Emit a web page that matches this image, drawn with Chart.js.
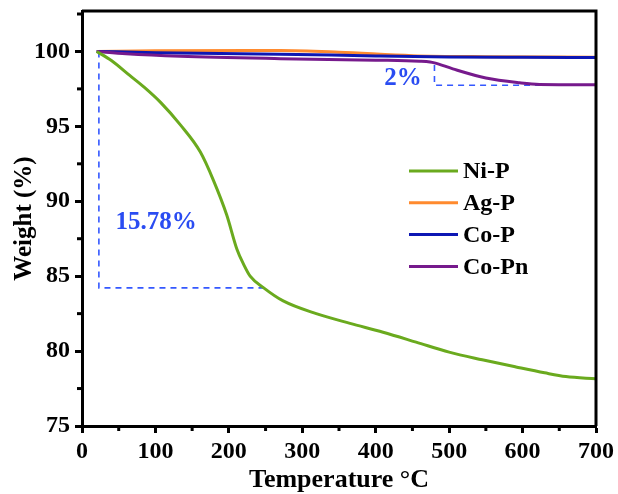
<!DOCTYPE html>
<html>
<head>
<meta charset="utf-8">
<script src="https://cdn.jsdelivr.net/npm/chart.js@4"></script>
<style>
  html, body { margin: 0; padding: 0; background: #fff; }
  #wrap { width: 618px; height: 494px; }
</style>
</head>
<body>
<div id="wrap"><canvas id="c" width="618" height="494"></canvas></div>
<script>
// TGA curves: temperature (°C) vs remaining weight (%)
const niT  = [20, 40, 65, 85, 107, 134, 161, 179, 197, 211, 220, 229, 247, 274, 319, 365, 410, 455, 500, 545, 591, 630, 659, 700];
const niW  = [100, 99.4, 98.4, 97.6, 96.6, 95.1, 93.3, 91.4, 89.1, 86.8, 85.8, 85.0, 84.24, 83.35, 82.5, 81.85, 81.26, 80.6, 79.93, 79.42, 78.94, 78.55, 78.3, 78.15];

const agT  = [20, 100, 270, 350, 450, 550, 700];
const agW  = [100, 100.05, 100.06, 99.95, 99.72, 99.65, 99.62];

const coT  = [20, 100, 270, 400, 500, 600, 700];
const coW  = [100, 99.92, 99.82, 99.7, 99.63, 99.61, 99.6];

const cpnT = [20, 60, 134, 270, 400, 460, 474, 480, 505, 550, 596, 623, 700];
const cpnW = [100, 99.85, 99.68, 99.52, 99.42, 99.35, 99.3, 99.24, 98.84, 98.23, 97.91, 97.8, 97.78];

// Mass-loss guides
const lossNiT = [23, 23, 247];
const lossNiW = [100, 84.22, 84.22];
const lossCoT = [480, 480, 700];
const lossCoW = [99.1, 97.74, 97.74];

const xTicks = [0, 100, 200, 300, 400, 500, 600, 700];
const yTicks = [75, 80, 85, 90, 95, 100];

const labelNi = { text: '15.78%', x: 101, y: 88.55 };
const labelCo = { text: '2%', x: 437, y: 98.2 };

const pts = (xs, ys) => xs.map((x, i) => ({ x, y: ys[i] }));

const FONT = '"Liberation Serif", "DejaVu Serif", serif';
const GUIDE = '#3458ff';

const curve = (label, xs, ys, color, order) => ({
  label, data: pts(xs, ys), borderColor: color, backgroundColor: color,
  borderWidth: 3, pointRadius: 0, cubicInterpolationMode: 'monotone',
  fill: false, order, showLegend: true
});
const guide = (xs, ys) => ({
  label: '', data: pts(xs, ys), borderColor: GUIDE, borderWidth: 1.6,
  borderDash: [6, 5], pointRadius: 0, tension: 0, fill: false, order: 10, showLegend: false
});

// Minor ticks, in-plot legend and percentage labels
const extras = {
  id: 'extras',
  afterDraw(chart) {
    const { ctx, scales: { x, y }, chartArea: a } = chart;
    ctx.save();
    ctx.strokeStyle = '#000';
    ctx.lineWidth = 3;
    for (let v = 50; v < 700; v += 100) {
      const px = x.getPixelForValue(v);
      ctx.beginPath(); ctx.moveTo(px, a.bottom); ctx.lineTo(px, a.bottom + 5); ctx.stroke();
    }
    for (let v = 77.5; v < 102.7; v += 5) {
      const py = y.getPixelForValue(v);
      ctx.beginPath(); ctx.moveTo(a.left, py); ctx.lineTo(a.left - 5, py); ctx.stroke();
    }

    // legend
    const items = chart.data.datasets.filter(d => d.showLegend);
    ctx.font = 'bold 24px ' + FONT;
    ctx.textBaseline = 'middle';
    items.forEach((d, i) => {
      const cy = 171 + i * 31.8;
      ctx.strokeStyle = d.borderColor;
      ctx.lineWidth = 3;
      ctx.beginPath(); ctx.moveTo(409, cy); ctx.lineTo(458, cy); ctx.stroke();
      ctx.fillStyle = '#000';
      ctx.fillText(d.label, 463, cy + 1);
    });

    // mass-loss labels
    ctx.fillStyle = '#2a4cf2';
    ctx.font = 'bold 25px ' + FONT;
    ctx.textAlign = 'center';
    [labelNi, labelCo].forEach(l => {
      ctx.fillText(l.text, x.getPixelForValue(l.x), y.getPixelForValue(l.y));
    });
    ctx.restore();
  }
};

new Chart(document.getElementById('c'), {
  type: 'line',
  data: {
    datasets: [
      curve('Ni-P', niT, niW, '#6aaa1e', 0),
      curve('Ag-P', agT, agW, '#ff8a2e', 3),
      curve('Co-P', coT, coW, '#0d17b4', 2),
      curve('Co-Pn', cpnT, cpnW, '#761a8c', 1),
      guide(lossNiT, lossNiW),
      guide(lossCoT, lossCoW)
    ]
  },
  options: {
    responsive: false,
    animation: false,
    layout: { padding: { top: 11, right: 21, left: 0, bottom: 0 } },
    plugins: { legend: { display: false }, tooltip: { enabled: false } },
    scales: {
      x: {
        type: 'linear', min: 0, max: 700,
        afterBuildTicks: s => { s.ticks = xTicks.map(v => ({ value: v })); },
        afterFit: s => { s.height = 68; },
        border: { display: true, color: '#000', width: 3 },
        grid: { display: true, drawOnChartArea: false, drawTicks: true, tickLength: 7, tickWidth: 3, tickColor: '#000' },
        ticks: { color: '#000', font: { family: FONT, size: 24, weight: 'bold' }, padding: 4, maxRotation: 0 },
        title: { display: true, text: 'Temperature °C', color: '#000', font: { family: FONT, size: 26, weight: 'bold', lineHeight: 1.0 }, padding: { top: 0, bottom: 1 } }
      },
      y: {
        type: 'linear', min: 75, max: 102.7,
        afterBuildTicks: s => { s.ticks = yTicks.map(v => ({ value: v })); },
        afterFit: s => { s.width = 82; s.paddingTop = 0; s.paddingBottom = 0; },
        border: { display: true, color: '#000', width: 3 },
        grid: { display: true, drawOnChartArea: false, drawTicks: true, tickLength: 7, tickWidth: 3, tickColor: '#000' },
        ticks: { color: '#000', font: { family: FONT, size: 24, weight: 'bold' }, padding: 5 },
        title: { display: true, text: 'Weight (%)', color: '#000', font: { family: FONT, size: 25, weight: 'bold' }, padding: { top: 10, bottom: 0 } }
      }
    }
  },
  plugins: [extras, {
    id: 'frame',
    afterDatasetsDraw(chart) {
      const { ctx, chartArea: a } = chart;
      ctx.save();
      ctx.strokeStyle = '#000';
      ctx.lineWidth = 3;
      ctx.beginPath();
      ctx.moveTo(a.left, a.top); ctx.lineTo(a.right, a.top); ctx.lineTo(a.right, a.bottom);
      ctx.stroke();
      ctx.restore();
    }
  }]
});
</script>
</body>
</html>
